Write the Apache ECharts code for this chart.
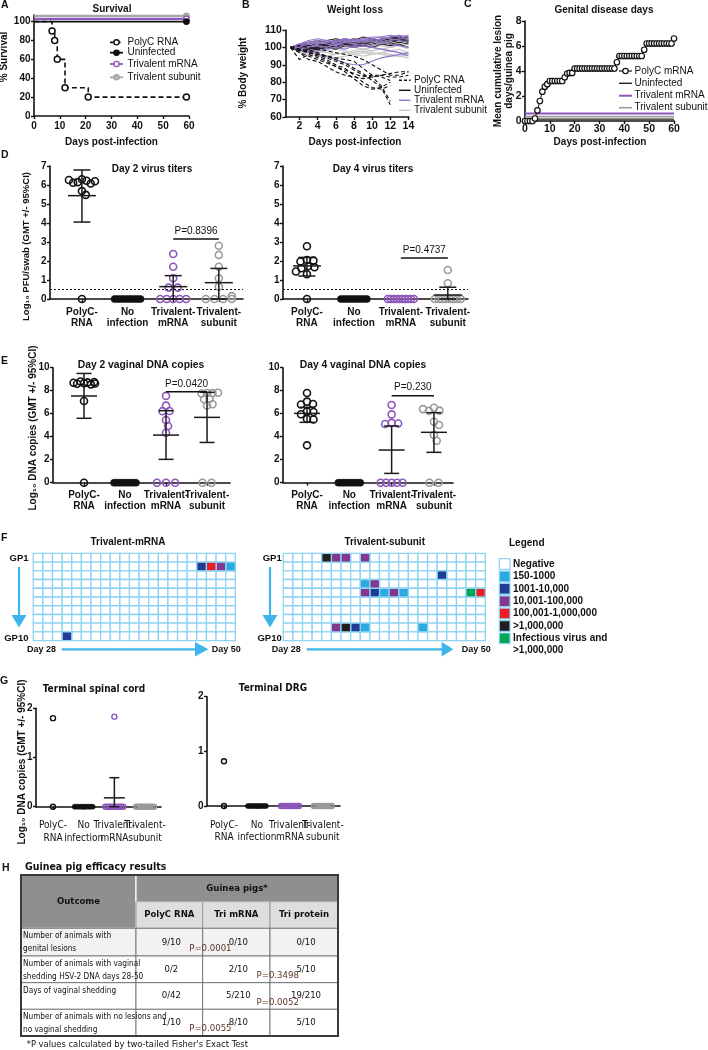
<!DOCTYPE html>
<html><head><meta charset="utf-8">
<script src="https://cdn.jsdelivr.net/npm/echarts@6/dist/echarts.min.js"></script>
<style>html,body{margin:0;padding:0;background:#fff}#chart{width:708px;height:1050px}</style>
</head><body><div id="chart"></div>
<script>
const FONT = "'Liberation Sans', Arial, Helvetica, sans-serif";
const NARROW = "'Liberation Sans Narrow', 'Arial Narrow', 'DejaVu Sans Condensed', 'Liberation Sans', sans-serif";
const INK = '#111111';
const PURPLE = '#8d57bd';
const GRAY = '#9c9c9c';
const W_PURPLE = '#9274c9';
const W_GRAY = '#c8c8c8';

// ---------- A: Survival ----------
const survDaysPolyC = [0, 7, 8, 9, 12, 21, 59];
const survPolyC = [100, 90, 80, 60, 30, 20, 20];
const survDaysFlat = [0, 59];
const survUninfected = [100, 100];
const survTriMrna = [103, 103];
const survTriSubunit = [106, 106];
const survXTicks = [0, 10, 20, 30, 40, 50, 60];
const survYTicks = [0, 20, 40, 60, 80, 100];
const survLegend = ['PolyC RNA', 'Uninfected', 'Trivalent mRNA', 'Trivalent subunit'];

// ---------- B: Weight loss ----------
const weightDays = [1, 2, 3, 4, 5, 6, 7, 8, 9, 10, 11, 12, 13, 14];
const weightXTicks = [2, 4, 6, 8, 10, 12, 14];
const weightYTicks = [60, 70, 80, 90, 100, 110];
const weightPolyC = [
  [100, 97, 95, 93, 91, 89, 87, 85, 83, 84, 84, 85, 86, 86],
  [100, 99, 97, 96, 95, 93, 91, 88, 85, 81, 77, 67],
  [100, 93, 96, 94, 92, 89, 86, 82, 78, 76, 77, 80],
  [100, 98, 97, 96, 94, 92, 90, 87, 84, 83, 78, 69],
  [100, 97, 93, 92, 89, 86, 84, 83, 82, 83, 84, 83, 83, 84],
  [100, 99, 98, 97, 95, 94, 93, 92, 88, 84, 83, 81],
  [100, 101, 100, 99, 98, 97, 96, 95, 93, 90, 87, 84, 84, 86],
  [100, 99, 97, 95, 93, 90, 88, 84, 80, 77, 76, 78]
];
const weightUninfected = [
  [100, 101, 102, 103, 104, 105, 104, 105, 104, 105, 104, 105, 106, 104],
  [100, 100, 99, 101, 102, 104, 103, 102, 103, 104, 103, 104, 105, 103],
  [100, 99, 100, 99, 100, 101, 102, 101, 102, 103, 104, 103, 104, 105],
  [100, 102, 103, 104, 103, 104, 105, 104, 106, 105, 104, 106, 105, 106],
  [100, 98, 99, 100, 101, 100, 102, 101, 101, 102, 103, 102, 103, 102],
  [100, 101, 101, 102, 101, 103, 102, 103, 102, 103, 105, 104, 104, 103],
  [100, 99, 98, 99, 100, 99, 101, 100, 101, 100, 102, 101, 102, 100],
  [100, 100, 101, 100, 102, 102, 103, 104, 103, 104, 104, 105, 105, 104]
];
const weightTriMrna = [
  [100, 101, 103, 104, 103, 104, 105, 104, 105, 106, 106, 107, 106, 107],
  [100, 99, 98, 96, 95, 93, 91, 90, 90, 92, 94, 95, 96, 97],
  [100, 102, 103, 102, 104, 103, 105, 104, 103, 105, 104, 106, 107, 106],
  [100, 99, 100, 101, 100, 102, 101, 100, 101, 100, 99, 98, 97, 95],
  [100, 101, 100, 102, 103, 102, 103, 105, 104, 105, 106, 105, 104, 103],
  [100, 100, 102, 103, 102, 101, 103, 102, 104, 103, 105, 106, 107, 104],
  [100, 99, 97, 98, 99, 100, 99, 101, 102, 101, 103, 102, 101, 100],
  [100, 102, 104, 105, 104, 103, 104, 103, 105, 104, 103, 104, 105, 105]
];
const weightTriSubunit = [
  [100, 99, 98, 97, 98, 99, 98, 97, 98, 97, 96, 95, 95, 94],
  [100, 100, 101, 100, 99, 100, 101, 102, 101, 100, 99, 98, 99, 97],
  [100, 98, 97, 96, 95, 96, 97, 98, 99, 100, 101, 100, 101, 102],
  [100, 101, 100, 99, 100, 101, 102, 101, 103, 104, 103, 102, 103, 104],
  [100, 97, 96, 95, 94, 94, 95, 96, 97, 96, 97, 98, 97, 96],
  [100, 99, 100, 101, 102, 101, 100, 101, 102, 103, 102, 103, 104, 103],
  [100, 98, 99, 98, 97, 96, 97, 96, 95, 96, 97, 96, 95, 96],
  [100, 100, 99, 100, 101, 102, 101, 100, 99, 98, 99, 100, 101, 99]
];
const weightLegend = ['PolyC RNA', 'Uninfected', 'Trivalent mRNA', 'Trivalent subunit'];

// ---------- C: Genital disease days (value per day 0..60) ----------
const lesionPolyC = [0, 0, 0, 0, 0.2, 0.85, 1.6, 2.35, 2.75, 2.95,
  3.2, 3.2, 3.2, 3.2, 3.2, 3.2, 3.5, 3.8, 3.85, 3.85,
  4.2, 4.2, 4.2, 4.2, 4.2, 4.2, 4.2, 4.2, 4.2, 4.2, 4.2, 4.2, 4.2, 4.2, 4.2, 4.2, 4.2,
  4.7, 5.2, 5.2, 5.2, 5.2, 5.2, 5.2, 5.2, 5.2, 5.2, 5.2,
  5.7, 6.2, 6.2, 6.2, 6.2, 6.2, 6.2, 6.2, 6.2, 6.2, 6.2, 6.2, 6.6];
const lesionDaysFlat = [0, 60];
const lesionUninfected = [0.15, 0.15];
const lesionTriSubunit = [0.35, 0.35];
const lesionTriMrna = [0.6, 0.6];
const lesionXTicks = [0, 10, 20, 30, 40, 50, 60];
const lesionYTicks = [0, 2, 4, 6, 8];
const lesionLegend = ['PolyC mRNA', 'Uninfected', 'Trivalent mRNA', 'Trivalent subunit'];

// ---------- D / E / G dot plots ----------
const groupLabels = ['PolyC-\nRNA', 'No\ninfection', 'Trivalent-\nmRNA', 'Trivalent-\nsubunit'];
const titerYTicks = [0, 1, 2, 3, 4, 5, 6, 7];
const titerLOD = 0.5;
const titerDay2 = [
  [6.3, 6.22, 6.15, 6.08, 6.12, 6.2, 6.26, 5.68, 5.48, 0],
  [0, 0, 0, 0, 0, 0, 0, 0, 0, 0],
  [2.37, 1.7, 1.09, 0.6, 0.6, 0, 0, 0, 0, 0],
  [2.8, 2.32, 1.7, 1.09, 0.65, 0.15, 0, 0, 0, 0]
];
const titerDay2Stats = [[5.44, 4.05, 6.79], null, [0.65, 0, 1.23], [0.86, 0, 1.61]];
const titerDay2P = { from: 3, to: 4, y: 3.16, label: 'P=0.8396' };
const titerDay4 = [
  [2.78, 2.05, 2.02, 1.97, 1.72, 1.67, 1.62, 1.45, 1.3, 0],
  [0, 0, 0, 0, 0, 0, 0, 0, 0, 0],
  [0, 0, 0, 0, 0, 0, 0, 0, 0, 0],
  [1.53, 0.83, 0, 0, 0, 0, 0, 0, 0, 0]
];
const titerDay4Stats = [[1.74, 1.21, 2.19], null, null, [0.21, 0, 0.62]];
const titerDay4P = { from: 3, to: 4, y: 2.16, label: 'P=0.4737' };

const dnaYTicks = [0, 2, 4, 6, 8, 10];
const dnaDay2 = [
  [8.66, 8.72, 8.8, 8.6, 8.55, 8.76, 8.69, 8.63, 7.1, 0],
  [0, 0, 0, 0, 0, 0, 0, 0, 0, 0],
  [7.55, 6.7, 6.24, 6.22, 5.45, 4.93, 4.35, 0, 0, 0],
  [7.8, 7.79, 7.76, 7.82, 7.3, 7.26, 6.82, 6.72, 0, 0]
];
const dnaDay2Stats = [[7.54, 5.6, 9.5], null, [4.14, 2.03, 6.26], [5.68, 3.5, 7.86]];
const dnaDay2P = { from: 3, to: 4, y: 7.9, label: 'P=0.0420' };
const dnaDay4 = [
  [7.8, 7.05, 6.85, 6.8, 6.2, 6.15, 5.95, 5.55, 5.5, 3.25],
  [0, 0, 0, 0, 0, 0, 0, 0, 0, 0],
  [6.76, 5.94, 5.2, 5.15, 5.1, 0, 0, 0, 0, 0],
  [6.52, 6.27, 6.25, 6.4, 5.3, 5.02, 4.15, 3.65, 0, 0]
];
const dnaDay4Stats = [[6.03, 5.25, 6.56], null, [2.84, 0.81, 4.93], [4.38, 2.64, 6.09]];
const dnaDay4P = { from: 3, to: 4, y: 7.57, label: 'P=0.230' };

const tissueYTicks = [0, 1, 2];
const spinalCord = [
  [1.8, 0],
  [0, 0, 0, 0, 0, 0, 0, 0, 0, 0],
  [1.83, 0, 0, 0, 0, 0, 0, 0, 0, 0],
  [0, 0, 0, 0, 0, 0, 0, 0, 0, 0]
];
const spinalCordStats = [null, null, [0.18, 0, 0.59], null];
const drg = [
  [0.82, 0],
  [0, 0, 0, 0, 0, 0, 0, 0, 0, 0],
  [0, 0, 0, 0, 0, 0, 0, 0, 0, 0],
  [0, 0, 0, 0, 0, 0, 0, 0, 0, 0]
];
const drgStats = [null, null, null, null];

// ---------- F: shedding heat maps ----------
const heatDays = 21;
const heatAnimals = 10;
const heatLevels = ['Negative', '150-1000', '1001-10,000', '10,001-100,000', '100,001-1,000,000', '>1,000,000', 'Infectious virus and\n>1,000,000'];
const heatColors = ['#ffffff', '#29abe2', '#1f3d96', '#83378f', '#ed1c24', '#231f20', '#00a651'];
// [dayColumn, animalRow, level]
const heatMrnaCells = [[17, 1, 2], [18, 1, 4], [19, 1, 3], [20, 1, 1], [3, 9, 2]];
const heatSubunitCells = [[4, 0, 5], [5, 0, 3], [6, 0, 3], [8, 0, 3], [16, 2, 2], [8, 3, 1], [9, 3, 3],
  [8, 4, 3], [9, 4, 2], [10, 4, 1], [11, 4, 3], [12, 4, 1], [19, 4, 6], [20, 4, 4],
  [5, 8, 3], [6, 8, 5], [7, 8, 2], [8, 8, 1], [14, 8, 1]];

// ---------- H: table ----------
const tableTitle = 'Guinea pig efficacy results';
const tableOutcome = 'Outcome';
const tableGroupHeader = 'Guinea pigs*';
const tableColHeaders = ['PolyC RNA', 'Tri mRNA', 'Tri protein'];
const tableRows = [
  ['Number of animals with\ngenital lesions', '9/10', '0/10', '0/10'],
  ['Number of animals with vaginal\nshedding HSV-2 DNA days 28-50', '0/2', '2/10', '5/10'],
  ['Days of vaginal shedding', '0/42', '5/210', '19/210'],
  ['Number of animals with no lesions and\nno vaginal shedding', '1/10', '8/10', '5/10']
];
const tablePValues = [
  { row: 0, between: 2, text: 'P=0.0001' },
  { row: 1, between: 3, text: 'P=0.3498' },
  { row: 2, between: 3, text: 'P=0.0052' },
  { row: 3, between: 2, text: 'P=0.0055' }
];
const tableNote = "*P values calculated by two-tailed Fisher's Exact Test";

// ================= layout =================
const GRIDS = [
  { left: 34, top: 15, width: 155, height: 101 },
  { left: 285.4, top: 30, width: 123.5, height: 87 },
  { left: 525, top: 21, width: 149, height: 100 },
  { left: 50, top: 166, width: 193, height: 133 },
  { left: 283, top: 166, width: 185, height: 133 },
  { left: 53, top: 367.7, width: 177, height: 115 },
  { left: 283, top: 367.7, width: 170, height: 115 },
  { left: 33.3, top: 553.3, width: 202, height: 87.4 },
  { left: 283.3, top: 553.3, width: 202, height: 87.4 },
  { left: 36, top: 708.3, width: 125, height: 98.4 },
  { left: 207, top: 696.7, width: 133, height: 109.3 }
];

const xAxes = [], yAxes = [], series = [], graphics = [];

function valueAxis(gi, min, max, ticks, o) {
  o = o || {};
  const lab = { show: true, customValues: o.labelValues || ticks, color: INK, fontFamily: o.font || FONT,
    fontWeight: o.weight || 'bold', fontSize: o.size || 10, margin: o.margin == null ? 4 : o.margin,
    showMinLabel: true, showMaxLabel: true, hideOverlap: false };
  if (o.lineHeight) lab.lineHeight = o.lineHeight;
  if (o.formatter) lab.formatter = o.formatter;
  return {
    type: 'value', gridIndex: gi, min, max,
    axisLine: { show: true, onZero: false, lineStyle: { color: INK, width: 1.6 } },
    axisTick: { show: true, length: o.tickLen || 3, lineStyle: { color: INK, width: 1.4 }, customValues: ticks },
    axisLabel: lab,
    splitLine: { show: false }
  };
}

function gText(x, y, text, o) {
  o = o || {};
  const st = { text, fill: o.color || INK, font: o.font || ('bold 10px ' + FONT),
    align: o.align || 'left', textAlign: o.align || 'left',
    verticalAlign: o.va || 'middle', textVerticalAlign: o.va || 'middle' };
  if (o.lineHeight) st.lineHeight = o.lineHeight;
  return { type: 'text', x, y, z: 50, silent: true, rotation: o.rotation || 0, style: st };
}
function gLine(x1, y1, x2, y2, stroke, lw, dash) {
  const st = { stroke, lineWidth: lw };
  if (dash) st.lineDash = dash;
  return { type: 'line', z: 50, silent: true, shape: { x1, y1, x2, y2 }, style: st };
}
function gCircle(cx, cy, r, fill, stroke, lw) {
  return { type: 'circle', z: 51, silent: true, shape: { cx, cy, r }, style: { fill, stroke, lineWidth: lw } };
}
function gRect(x, y, w, h, fill, stroke, lw) {
  return { type: 'rect', z: 40, silent: true, shape: { x, y, width: w, height: h }, style: { fill, stroke, lineWidth: lw || 0 } };
}
function gPoly(points, fill) {
  return { type: 'polygon', z: 50, silent: true, shape: { points }, style: { fill } };
}

// ---------- panel letters ----------
[['A', 1, 5], ['B', 242, 5], ['C', 464, 4], ['D', 1, 155], ['E', 1, 361], ['F', 1, 538], ['G', 0, 681], ['H', 2, 868]]
  .forEach(l => graphics.push(gText(l[1], l[2], l[0], { font: 'bold 10.5px ' + FONT })));

// ---------- A ----------
xAxes.push(valueAxis(0, 0, 60, survXTicks, { margin: 5 }));
yAxes.push(valueAxis(0, 0, 107, survYTicks, { margin: 3.5 }));
function flatLine(gi, xs, ys, color, width, symFill) {
  series.push({ type: 'line', xAxisIndex: gi, yAxisIndex: gi, silent: true, z: 3,
    data: xs.map((x, i) => ({ value: [x, ys[i]], symbol: (symFill && i === xs.length - 1) ? 'circle' : 'none' })),
    symbolSize: 5.5, lineStyle: { color, width }, itemStyle: { color: symFill || color, borderColor: color, borderWidth: 1.4 } });
}
flatLine(0, survDaysFlat, survTriSubunit, '#a6a6a6', 2.2, '#b5b5b5');
flatLine(0, survDaysFlat, survTriMrna, PURPLE, 2.2, '#ffffff');
flatLine(0, survDaysFlat, survUninfected, INK, 1.8, INK);
series.push({ type: 'line', xAxisIndex: 0, yAxisIndex: 0, step: 'end', silent: true, z: 4,
  data: survDaysPolyC.map((d, i) => ({ value: [d, survPolyC[i]], symbol: i === 0 ? 'none' : 'circle' })),
  symbolSize: 6, showAllSymbol: true,
  lineStyle: { color: INK, width: 1.6, type: [5, 3] },
  itemStyle: { color: '#ffffff', borderColor: INK, borderWidth: 1.5 } });
graphics.push(gText(112, 9.5, 'Survival', { align: 'center' }));
graphics.push(gText(111.5, 142, 'Days post-infection', { align: 'center' }));
graphics.push(gText(4.5, 57, '% Survival', { align: 'center', rotation: Math.PI / 2 }));
(function () {
  const ys = [42.3, 52.7, 64, 77.3];
  const styles = [
    { c: INK, dash: [4, 2.5], fill: '#fff' }, { c: INK, fill: INK },
    { c: PURPLE, fill: '#fff' }, { c: '#a6a6a6', fill: '#b5b5b5' }];
  survLegend.forEach((t, i) => {
    graphics.push(gLine(110, ys[i], 123, ys[i], styles[i].c, 1.8, styles[i].dash));
    graphics.push(gCircle(116.5, ys[i], 2.6, styles[i].fill, styles[i].c, 1.4));
    graphics.push(gText(127.5, ys[i], t, { font: '10px ' + FONT }));
  });
})();

// ---------- B ----------
xAxes.push(valueAxis(1, 0.45, 14.05, weightXTicks, { margin: 4, size: 10.5 }));
yAxes.push(valueAxis(1, 60, 110, weightYTicks, { margin: 3.5, size: 10.5 }));
function weightSeries(list, color, dash) {
  list.forEach(w => series.push({ type: 'line', xAxisIndex: 1, yAxisIndex: 1, silent: true, symbol: 'none', z: 3,
    data: w.map((v, i) => [weightDays[i], v]),
    lineStyle: { color, width: 1.1, type: dash || 'solid' } }));
}
weightSeries(weightTriSubunit, W_GRAY);
weightSeries(weightUninfected, '#222222');
weightSeries(weightTriMrna, W_PURPLE);
weightSeries(weightPolyC, INK, [4, 2.5]);
graphics.push(gText(355, 10, 'Weight loss', { align: 'center' }));
graphics.push(gText(355, 142, 'Days post-infection', { align: 'center' }));
graphics.push(gText(243.3, 73, '% Body weight', { align: 'center', rotation: Math.PI / 2 }));
(function () {
  const ys = [80.3, 90.3, 100.3, 110.3];
  const st = [{ c: INK, dash: [3, 2] }, { c: INK }, { c: W_PURPLE }, { c: W_GRAY }];
  weightLegend.forEach((t, i) => {
    graphics.push(gLine(399, ys[i], 410.5, ys[i], st[i].c, 1.4, st[i].dash));
    graphics.push(gText(414, ys[i], t, { font: '10px ' + FONT }));
  });
})();

// ---------- C ----------
xAxes.push(valueAxis(2, 0, 60, lesionXTicks, { margin: 3, size: 10.5 }));
yAxes.push(valueAxis(2, 0, 8, lesionYTicks, { margin: 3.5, size: 10.5 }));
flatLine(2, lesionDaysFlat, lesionUninfected, '#222222', 1.4);
flatLine(2, lesionDaysFlat, lesionTriSubunit, GRAY, 1.6);
flatLine(2, lesionDaysFlat, lesionTriMrna, PURPLE, 2);
series.push({ type: 'line', xAxisIndex: 2, yAxisIndex: 2, silent: true, z: 4,
  data: lesionPolyC.map((v, i) => [i, v]), symbol: 'circle', symbolSize: 5.5, showAllSymbol: true,
  lineStyle: { color: INK, width: 1 }, itemStyle: { color: '#ffffff', borderColor: INK, borderWidth: 1.2 } });
graphics.push(gText(604, 10, 'Genital disease days', { align: 'center' }));
graphics.push(gText(600, 142, 'Days post-infection', { align: 'center' }));
graphics.push(gText(503.5, 71, 'Mean cumulative lesion\ndays/guinea pig', { align: 'center', rotation: Math.PI / 2, lineHeight: 11 }));
(function () {
  const ys = [71, 83.3, 95.7, 107.7];
  const st = [{ c: INK, w: 1.2 }, { c: '#222222', w: 1.4 }, { c: PURPLE, w: 2 }, { c: GRAY, w: 1.6 }];
  lesionLegend.forEach((t, i) => {
    graphics.push(gLine(619, ys[i], 632, ys[i], st[i].c, st[i].w));
    if (i === 0) graphics.push(gCircle(625.5, ys[i], 2.7, '#fff', INK, 1.2));
    graphics.push(gText(634.5, ys[i], t, { font: '10px ' + FONT }));
  });
})();

// ---------- dot plots ----------
const GROUP_STYLES = [
  { fill: 'rgba(255,255,255,0)', stroke: INK },
  { fill: INK, stroke: INK },
  { fill: 'rgba(255,255,255,0)', stroke: PURPLE },
  { fill: 'rgba(255,255,255,0)', stroke: '#9a9a9a' }
];

function swarm(vals, center, pxX, pxY, d, maxW) {
  const out = new Array(vals.length);
  const counts = {};
  vals.forEach(v => { counts[v] = (counts[v] || 0) + 1; });
  const done = new Set();
  const placed = [];
  Object.keys(counts).forEach(key => {
    const n = counts[key];
    if (n < 2) return;
    const v = +key;
    const idxs = [];
    vals.forEach((x, i) => { if (x === v) idxs.push(i); });
    const sp = Math.min(d * 1.3, maxW / (n - 1));
    idxs.forEach((i, j) => {
      const off = (j - (n - 1) / 2) * sp;
      out[i] = off; placed.push([off, v * pxY]); done.add(i);
    });
  });
  const free = [];
  vals.forEach((v, i) => {
    if (done.has(i)) return;
    const y = v * pxY;
    let off = 0;
    for (let s = 0; s < 80; s++) {
      const cand = s === 0 ? 0 : (s % 2 ? 1 : -1) * Math.ceil(s / 2) * 0.5;
      off = cand;
      if (placed.every(p => Math.hypot(p[0] - cand, p[1] - y) >= d * 0.9)) break;
    }
    out[i] = off; placed.push([off, y]); free.push(i);
  });
  let maxOff = 0;
  free.forEach(i => { maxOff = Math.max(maxOff, Math.abs(out[i])); });
  const k = maxOff > maxW / 2 ? (maxW / 2) / maxOff : 1;
  free.forEach(i => { out[i] *= k; });
  return vals.map((v, i) => [center + out[i] / pxX, v]);
}

function dotPanel(p) {
  const gi = p.gi, g = GRIDS[gi];
  const fmt = v => groupLabels[Math.round(v) - 1];
  const xi = xAxes.length;
  // main axis: line, ticks and odd group labels
  xAxes.push(valueAxis(gi, p.xmin, p.xmax, [1, 2, 3, 4], {
    labelValues: [1, 3], margin: p.labelMargin, font: p.labelFont, weight: p.labelWeight, size: p.labelSize,
    lineHeight: p.labelLH, formatter: fmt }));
  // companion axis on the same grid carrying the even group labels
  const comp = valueAxis(gi, p.xmin, p.xmax, [2, 4], {
    margin: p.labelMargin, font: p.labelFont, weight: p.labelWeight, size: p.labelSize,
    lineHeight: p.labelLH, formatter: fmt });
  comp.position = 'bottom';
  comp.offset = 0;
  comp.axisLine.show = false;
  comp.axisTick.show = false;
  xAxes[xi].position = 'bottom';
  xAxes.push(comp);
  const yi = yAxes.length;
  yAxes.push(valueAxis(gi, p.ymin, p.ymax, p.ticks, { margin: 3.5 }));
  const pxX = g.width / (p.xmax - p.xmin), pxY = g.height / (p.ymax - p.ymin);
  p.vals.forEach((vals, k) => {
    const st = GROUP_STYLES[k];
    const s = { type: 'scatter', xAxisIndex: xi, yAxisIndex: yi, silent: true, z: 4,
      data: swarm(vals, k + 1, pxX, pxY, p.d, p.maxW), symbol: 'circle', symbolSize: p.d,
      itemStyle: { color: st.fill, borderColor: st.stroke, borderWidth: k === 1 ? 0.6 : p.bw, opacity: 1 } };
    if (k === 0 && p.lod != null) {
      s.markLine = { silent: true, symbol: ['none', 'none'], label: { show: false },
        lineStyle: { type: [2, 2], color: INK, width: 1 }, data: [{ yAxis: p.lod }] };
    }
    series.push(s);
  });
  const sdata = [];
  p.stats.forEach((s, k) => { if (s) sdata.push([k + 1, s[0], s[1], s[2]]); });
  if (sdata.length) series.push({ type: 'custom', xAxisIndex: xi, yAxisIndex: yi, silent: true, z: 6,
    encode: { x: 0, y: 1 }, data: sdata,
    renderItem: (params, api) => {
      const x = api.value(0);
      const m = api.coord([x, api.value(1)]), lo = api.coord([x, api.value(2)]), hi = api.coord([x, api.value(3)]);
      const st = { stroke: '#1a1a1a', lineWidth: 1.5 };
      return { type: 'group', children: [
        { type: 'line', shape: { x1: m[0], y1: lo[1], x2: m[0], y2: hi[1] }, style: st },
        { type: 'line', shape: { x1: m[0] - p.cap, y1: lo[1], x2: m[0] + p.cap, y2: lo[1] }, style: st },
        { type: 'line', shape: { x1: m[0] - p.cap, y1: hi[1], x2: m[0] + p.cap, y2: hi[1] }, style: st },
        { type: 'line', shape: { x1: m[0] - p.mean, y1: m[1], x2: m[0] + p.mean, y2: m[1] }, style: st }
      ] };
    } });
  if (p.p) {
    const pv = p.p;
    series.push({ type: 'custom', xAxisIndex: xi, yAxisIndex: yi, silent: true, z: 6,
      encode: { x: 0, y: 2 }, data: [[pv.from, pv.to, pv.y]],
      renderItem: (params, api) => {
        const a = api.coord([api.value(0), api.value(2)]), b = api.coord([api.value(1), api.value(2)]);
        return { type: 'group', children: [
          { type: 'line', shape: { x1: a[0], y1: a[1], x2: b[0], y2: b[1] }, style: { stroke: INK, lineWidth: 1.5 } },
          { type: 'text', x: (a[0] + b[0]) / 2, y: a[1] - 3, style: { text: pv.label, font: '10px ' + FONT, fill: INK,
            align: 'center', textAlign: 'center', verticalAlign: 'bottom', textVerticalAlign: 'bottom' } }
        ] };
      } });
  }
}

const baseD = { d: 7, bw: 1.6, maxW: 26, cap: 8.5, mean: 14, labelMargin: 7, labelFont: FONT, labelWeight: 'bold', labelSize: 10, labelLH: 11.5 };
const baseE = Object.assign({}, baseD, { maxW: 22, cap: 7.5, mean: 13, labelLH: 11 });
const baseG = { d: 5, bw: 1.4, maxW: 18, cap: 5, mean: 10.5, labelMargin: 13, labelFont: NARROW, labelWeight: 'normal', labelSize: 10, labelLH: 12.3 };

// heat-map panels are declared before dot plots use their own axes; keep grid indices explicit
function heatPanel(gi, cells) {
  const cats = [];
  for (let c = 0; c < heatDays; c++) cats.push(c);
  const rows = [];
  for (let r = 0; r < heatAnimals; r++) rows.push(r);
  const xi = xAxes.length, yi = yAxes.length;
  xAxes.push({ type: 'category', gridIndex: gi, data: cats, show: false });
  yAxes.push({ type: 'category', gridIndex: gi, data: rows, inverse: true, show: false });
  const lookup = {};
  cells.forEach(c => { lookup[c[0] + '_' + c[1]] = c[2]; });
  const data = [];
  rows.forEach(r => cats.forEach(c => data.push([c, r, lookup[c + '_' + r] || 0])));
  data.sort((a, b) => a[2] - b[2]);
  series.push({ type: 'custom', xAxisIndex: xi, yAxisIndex: yi, silent: true, z: 3, data,
    encode: { x: 0, y: 1 },
    renderItem: (params, api) => {
      const p = api.coord([api.value(0), api.value(1)]);
      const s = api.size([1, 1]);
      return { type: 'rect', shape: { x: p[0] - s[0] / 2, y: p[1] - s[1] / 2, width: s[0], height: s[1] },
        style: { fill: heatColors[api.value(2)], stroke: '#8fd3f2', lineWidth: 1.3 } };
    } });
}

dotPanel(Object.assign({}, baseD, { gi: 3, vals: titerDay2, stats: titerDay2Stats, p: titerDay2P, lod: titerLOD, xmin: 0.3, xmax: 4.53, ymin: 0, ymax: 7, ticks: titerYTicks }));
dotPanel(Object.assign({}, baseD, { gi: 4, vals: titerDay4, stats: titerDay4Stats, p: titerDay4P, lod: titerLOD, xmin: 0.49, xmax: 4.43, ymin: 0, ymax: 7, ticks: titerYTicks }));
dotPanel(Object.assign({}, baseE, { gi: 5, vals: dnaDay2, stats: dnaDay2Stats, p: dnaDay2P, xmin: 0.244, xmax: 4.56, ymin: 0, ymax: 10, ticks: dnaYTicks }));
dotPanel(Object.assign({}, baseE, { gi: 6, vals: dnaDay4, stats: dnaDay4Stats, p: dnaDay4P, xmin: 0.433, xmax: 4.45, ymin: 0, ymax: 10, ticks: dnaYTicks }));

graphics.push(gText(152, 169, 'Day 2 virus titers', { align: 'center' }));
graphics.push(gText(373, 169, 'Day 4 virus titers', { align: 'center' }));
graphics.push(gText(26.7, 246.5, 'Log\u2081\u2080 PFU/swab (GMT +/- 95%CI)', { align: 'center', rotation: Math.PI / 2, font: 'bold 9.5px ' + FONT }));
graphics.push(gText(141, 365, 'Day 2 vaginal DNA copies', { align: 'center', font: 'bold 10.3px ' + FONT }));
graphics.push(gText(363, 365, 'Day 4 vaginal DNA copies', { align: 'center', font: 'bold 10.3px ' + FONT }));
graphics.push(gText(33, 428, 'Log\u2081\u2080 DNA copies (GMT +/- 95%CI)', { align: 'center', rotation: Math.PI / 2, font: 'bold 10px ' + FONT }));

// ---------- F heat maps ----------
heatPanel(7, heatMrnaCells);
heatPanel(8, heatSubunitCells);
const ARROW = '#3db5ea';
graphics.push(gText(128, 542.3, 'Trivalent-mRNA', { align: 'center' }));
graphics.push(gText(384.7, 542.3, 'Trivalent-subunit', { align: 'center' }));
[[28.5, 19, 61.7, 195, 208.3, 211.7, 27], [281.7, 270, 306.7, 441.7, 453.3, 461.7, 271.7]].forEach(a => {
  const [gpRight, vx, hx0, hx1, tip, d50, d28] = a;
  graphics.push(gText(gpRight, 558, 'GP1', { align: 'right', font: 'bold 9.5px ' + FONT }));
  graphics.push(gText(gpRight, 638, 'GP10', { align: 'right', font: 'bold 9.5px ' + FONT }));
  graphics.push(gLine(vx, 567, vx, 616, ARROW, 2.2));
  graphics.push(gPoly([[vx - 7.5, 615], [vx + 7.5, 615], [vx, 627.5]], ARROW));
  graphics.push(gText(d28, 649.3, 'Day 28', { font: 'bold 9px ' + FONT }));
  graphics.push(gLine(hx0, 649.3, hx1 + 1, 649.3, ARROW, 2.2));
  graphics.push(gPoly([[hx1, 642], [tip, 649.3], [hx1, 656.6]], ARROW));
  graphics.push(gText(d50, 649.3, 'Day 50', { font: 'bold 9px ' + FONT }));
});
graphics.push(gText(509, 543.5, 'Legend', { font: 'bold 10px ' + FONT }));
heatLevels.forEach((t, i) => {
  const y = 564 + i * 12.38;
  graphics.push(gRect(499.3, y - 5.3, 10.7, 10.7, heatColors[i], '#8fd3f2', 1.2));
  graphics.push(gText(513, y, t, { font: 'bold 10px ' + FONT, va: 'middle', lineHeight: 12.4 }));
});
graphics[graphics.length - 1].style.verticalAlign = 'top';
graphics[graphics.length - 1].style.textVerticalAlign = 'top';
graphics[graphics.length - 1].y = 564 + 6 * 12.38 - 6.2;

// ---------- G ----------
dotPanel(Object.assign({}, baseG, { gi: 9, vals: spinalCord, stats: spinalCordStats, xmin: 0.446, xmax: 4.52, ymin: 0, ymax: 2, ticks: tissueYTicks }));
dotPanel(Object.assign({}, baseG, { gi: 10, vals: drg, stats: drgStats, xmin: 0.485, xmax: 4.52, ymin: 0, ymax: 2, ticks: tissueYTicks }));
graphics.push(gText(94, 689, 'Terminal spinal cord', { align: 'center', font: 'bold 10px ' + NARROW }));
graphics.push(gText(273, 688, 'Terminal DRG', { align: 'center', font: 'bold 10px ' + NARROW }));
graphics.push(gText(22.5, 762, 'Log\u2081\u2080 DNA copies (GMT +/- 95%CI)', { align: 'center', rotation: Math.PI / 2, font: 'bold 10px ' + FONT }));

// ---------- H table ----------
(function () {
  const TX = [21, 136, 202.7, 270, 338];
  const TY = [875, 901.7, 928.3, 956, 982.7, 1009.3, 1036];
  graphics.push(gText(25, 867.7, tableTitle, { font: 'bold 10.5px ' + NARROW }));
  graphics.push(gRect(TX[0], TY[0], TX[1] - TX[0], TY[2] - TY[0], '#8f8f8f', '#ffffff', 1.2));
  graphics.push(gRect(TX[1], TY[0], TX[4] - TX[1], TY[1] - TY[0], '#8f8f8f', '#ffffff', 1.2));
  graphics.push(gText((TX[0] + TX[1]) / 2, (TY[0] + TY[2]) / 2, tableOutcome, { align: 'center', font: 'bold 9.5px ' + NARROW }));
  graphics.push(gText((TX[1] + TX[4]) / 2, (TY[0] + TY[1]) / 2, tableGroupHeader, { align: 'center', font: 'bold 9.5px ' + NARROW }));
  tableColHeaders.forEach((h, c) => {
    graphics.push(gRect(TX[c + 1], TY[1], TX[c + 2] - TX[c + 1], TY[2] - TY[1], '#dedede', '#8a8a8a', 0.8));
    graphics.push(gText((TX[c + 1] + TX[c + 2]) / 2, (TY[1] + TY[2]) / 2, h, { align: 'center', font: 'bold 9.5px ' + NARROW }));
  });
  tableRows.forEach((row, r) => {
    const y0 = TY[r + 2], y1 = TY[r + 3];
    row.forEach((cell, c) => {
      graphics.push(gRect(TX[c], y0, TX[c + 1] - TX[c], y1 - y0, r === 0 ? '#f2f2f2' : '#ffffff', '#6f6f6f', 0.9));
      if (c === 0) graphics.push(gText(TX[0] + 2, y0 + 1.5, cell, { font: '8.2px ' + NARROW, va: 'top', lineHeight: 12.6 }));
      else graphics.push(gText((TX[c] + TX[c + 1]) / 2 + 2, (y0 + y1) / 2, cell, { align: 'center', font: '9.5px ' + NARROW }));
    });
  });
  tablePValues.forEach(p => {
    graphics.push(gText(TX[p.between] - 13.4, TY[p.row + 3] - 7, p.text, { font: '9.5px ' + NARROW, color: '#5e3225' }));
  });
  const border = gRect(TX[0], TY[0], TX[4] - TX[0], TY[6] - TY[0], 'none', '#3a3a3a', 2);
  border.z = 45;
  graphics.push(border);
  graphics.push(gText(26.7, 1045, tableNote, { font: '9.3px ' + NARROW }));
})();

const chart = echarts.init(document.getElementById('chart'), null, { width: 708, height: 1050 });
chart.setOption({
  animation: false,
  backgroundColor: '#ffffff',
  textStyle: { fontFamily: FONT },
  grid: GRIDS.map(g => Object.assign({ containLabel: false, show: false }, g)),
  xAxis: xAxes,
  yAxis: yAxes,
  series,
  graphic: { elements: graphics }
});
</script></body></html>
